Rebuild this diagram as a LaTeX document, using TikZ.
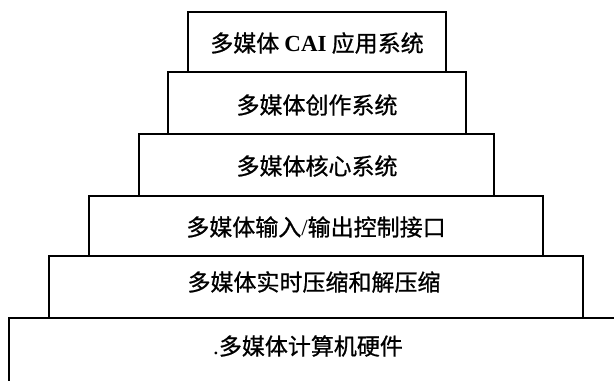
\documentclass[tikz,border=0pt]{standalone}
\usepackage{fontspec}
\setmainfont{Liberation Serif}
\newfontfamily\cjk{Noto Sans CJK SC}[FakeBold=0.8]
\usepackage{tikz}

\begin{document}
\begin{tikzpicture}[x=1bp, y=-1bp,
    layer/.style = {draw, line width=1.6bp, fill=white, inner sep=0pt},
    txt/.style = {inner sep=0pt, font=\fontsize{23bp}{28bp}\selectfont\cjk}]
            \useasboundingbox (0,0) rectangle (614,380);
            \clip (0,0) rectangle (614,380);
            % layers, top to bottom
            \node[layer, minimum width=258bp, minimum height=60bp] (cai) at (317,42) {};
            \node[layer, minimum width=298bp, minimum height=62bp] (author) at (317,103) {};
            \node[layer, minimum width=355bp, minimum height=62bp] (core) at (316.5,165) {};
            \node[layer, minimum width=454bp, minimum height=60bp] (io) at (316,226) {};
            \node[layer, minimum width=534bp, minimum height=62bp] (codec) at (316,287) {};
            \node[layer, minimum width=616bp, minimum height=72bp] (hw) at (317,354) {};
            % texts
            \node[txt] (cai-t) at (317,43) {多媒体 {\rmfamily\bfseries CAI} 应用系统};
            \node[txt] (author-t) at (317,105) {多媒体创作系统};
            \node[txt] (core-t) at (317,166) {多媒体核心系统};
            \node[txt] (io-t) at (316,227) {多媒体输入{\rmfamily /}输出控制接口};
            \node[txt] (codec-t) at (314,282) {多媒体实时压缩和解压缩};
            \node[txt] (hw-t) at (308,346) {{\rmfamily .}多媒体计算机硬件};
        \end{tikzpicture}
\end{document}
